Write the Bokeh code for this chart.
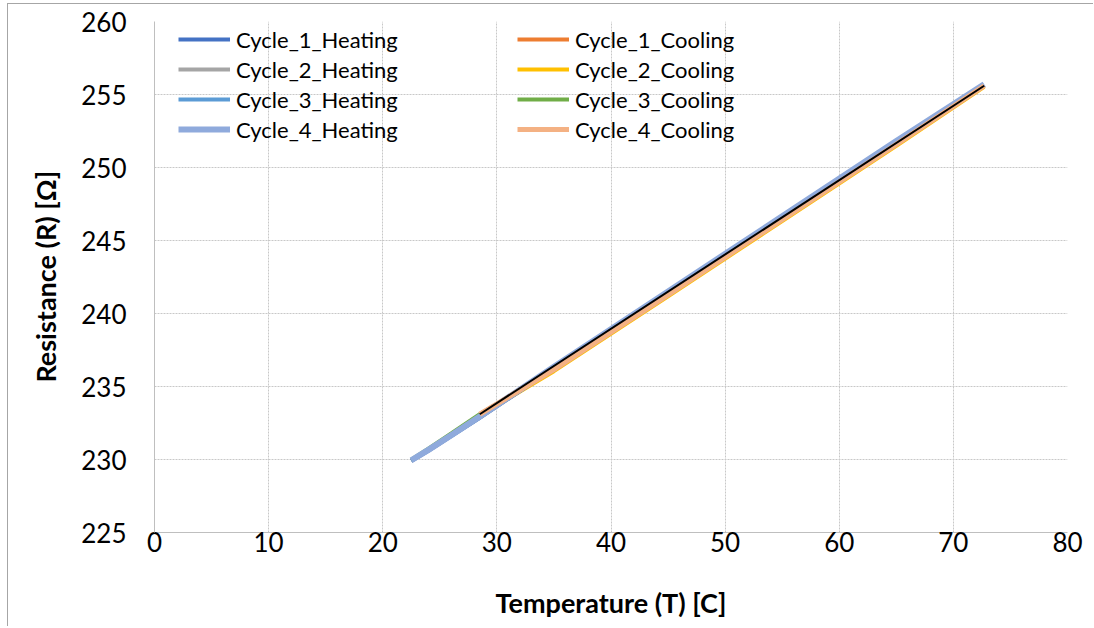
from bokeh.plotting import figure
from bokeh.models import Legend, LegendItem, Range1d, FixedTicker
from bokeh.embed import file_html
from bokeh.resources import INLINE

# ---- data ----
heat_T = [22.5, 24.0, 26.0, 28.5, 35.0, 45.0, 55.0, 65.0, 72.7]
heat_R1 = [229.90, 230.60, 231.60, 232.85, 236.25, 241.40, 246.55, 251.70, 255.62]
heat_R2 = [229.92, 230.62, 231.62, 232.87, 236.27, 241.42, 246.57, 251.72, 255.62]
heat_R3 = [229.93, 230.63, 231.63, 232.88, 236.28, 241.43, 246.58, 251.73, 255.63]
heat_R4 = [229.95, 230.66, 231.66, 232.94, 236.36, 241.51, 246.66, 251.81, 255.70]

cool_T = [72.7, 65.0, 55.0, 45.0, 35.0, 28.5]
cool_R1 = [255.60, 251.58, 246.43, 241.28, 236.15, 233.10]
cool_R2 = [255.52, 251.48, 246.33, 241.18, 236.05, 233.00]
cool_R4 = [255.60, 251.58, 246.43, 241.28, 236.15, 233.10]

cool3_T = [72.7, 65.0, 55.0, 45.0, 35.0, 28.5, 26.0, 24.0, 22.5]
cool3_R = [255.60, 251.58, 246.43, 241.28, 236.15, 233.10, 231.78, 230.75, 229.98]

fit_T = [28.5, 72.7]
fit_R = [233.10, 255.60]

x_ticks = [0, 10, 20, 30, 40, 50, 60, 70, 80]
y_ticks = [225, 230, 235, 240, 245, 250, 255, 260]

names = ["Cycle_1_Heating", "Cycle_1_Cooling", "Cycle_2_Heating", "Cycle_2_Cooling",
         "Cycle_3_Heating", "Cycle_3_Cooling", "Cycle_4_Heating", "Cycle_4_Cooling"]
colors = ["#4472C4", "#ED7D31", "#A5A5A5", "#FFC000",
          "#5B9BD5", "#70AD47", "#8FAADC", "#F4B183"]

FONT = "Lato"

p = figure(width=1086, height=623, output_backend="svg", toolbar_location=None,
           x_range=Range1d(0, 80), y_range=Range1d(225, 260),
           min_border_left=146, min_border_right=27, min_border_top=17, min_border_bottom=95)
p.outline_line_color = None
p.background_fill_color = "white"
p.border_fill_color = "white"
p.styles = {"margin-left": "7px", "margin-top": "3px",
            "border-left": "1px solid #a6a6a6", "border-top": "1px solid #a6a6a6"}

# lines
r_c2 = p.line(cool_T, cool_R2, color=colors[3], line_width=4)
r_h1 = p.line(heat_T, heat_R1, color=colors[0], line_width=4)
r_h2 = p.line(heat_T, heat_R2, color=colors[2], line_width=4)
r_h3 = p.line(heat_T, heat_R3, color=colors[4], line_width=4)
r_c3 = p.line(cool3_T, cool3_R, color=colors[5], line_width=4)
r_c1 = p.line(cool_T, cool_R1, color=colors[1], line_width=4)
r_h4 = p.line(heat_T, heat_R4, color=colors[6], line_width=6)
r_c4 = p.line(cool_T, cool_R4, color=colors[7], line_width=5)
p.line(fit_T, fit_R, color="black", line_width=2)

rend = {"Cycle_1_Heating": r_h1, "Cycle_1_Cooling": r_c1, "Cycle_2_Heating": r_h2,
        "Cycle_2_Cooling": r_c2, "Cycle_3_Heating": r_h3, "Cycle_3_Cooling": r_c3,
        "Cycle_4_Heating": r_h4, "Cycle_4_Cooling": r_c4}

# axes
for ax in (p.xaxis[0], p.yaxis[0]):
    ax.major_tick_line_color = None
    ax.minor_tick_line_color = None
    ax.axis_line_color = "#bfbfbf"
    ax.axis_line_width = 1
    ax.major_label_text_font = FONT
    ax.major_label_text_font_size = "26px"
    ax.major_label_text_color = "black"
    ax.axis_label_text_font = FONT
    ax.axis_label_text_font_size = "27px"
    ax.axis_label_text_font_style = "bold"
    ax.axis_label_text_color = "black"

p.xaxis[0].ticker = FixedTicker(ticks=x_ticks)
p.yaxis[0].ticker = FixedTicker(ticks=y_ticks)
p.xaxis[0].axis_label = "Temperature (T) [C]"
p.yaxis[0].axis_label = "Resistance (R) [Ω]"
p.xaxis[0].major_label_standoff = -7
p.yaxis[0].major_label_standoff = 22
p.xaxis[0].axis_label_standoff = 31
p.yaxis[0].axis_label_standoff = 16

for g in (p.xgrid[0], p.ygrid[0]):
    g.grid_line_color = "#c8c8c8"
    g.grid_line_dash = "2 1"
    g.grid_line_width = 1

# legends: two columns
def make_legend(items, xoff):
    lg = Legend(items=[LegendItem(label=n, renderers=[rend[n]]) for n in items],
                location=(xoff, 388), orientation="vertical")
    lg.background_fill_alpha = 0
    lg.border_line_color = None
    lg.padding = 0
    lg.margin = 0
    lg.spacing = 0
    lg.glyph_width = 52
    lg.glyph_height = 30
    lg.label_height = 30
    lg.label_standoff = 6
    lg.label_text_font = FONT
    lg.label_text_font_size = "22px"
    lg.label_text_color = "black"
    return lg

p.add_layout(make_legend(names[0::2], 24), "center")
p.add_layout(make_legend(names[1::2], 363), "center")

open("out.html", "w").write(file_html(p, INLINE))
